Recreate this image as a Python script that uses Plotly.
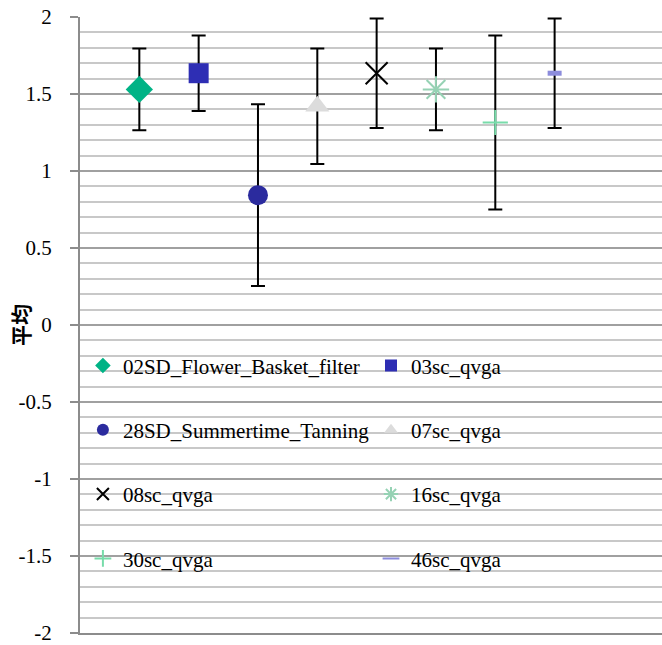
import plotly.graph_objects as go

names = ["02SD_Flower_Basket_filter", "03sc_qvga", "28SD_Summertime_Tanning", "07sc_qvga",
         "08sc_qvga", "16sc_qvga", "30sc_qvga", "46sc_qvga"]
x_pos = [1, 2, 3, 4, 5, 6, 7, 8]
means = [1.53, 1.635, 0.843, 1.42, 1.635, 1.53, 1.315, 1.635]
errors = [0.265, 0.245, 0.59, 0.375, 0.355, 0.265, 0.565, 0.355]

y_tickvals = [-2, -1.5, -1, -0.5, 0, 0.5, 1, 1.5, 2]
y_ticktext = ["-2", "-1.5", "-1", "-0.5", "0", "0.5", "1", "1.5", "2"]
y_title = "平均"

symbols = ["diamond", "square", "circle", "triangle-up", "x-thin", "asterisk", "cross-thin", "line-ew"]
colors = ["#00B386", "#2E2EB4", "#2B2B9E", "#DCDCDC", "#000000", "#96D2B4", "#78DCAA", "#8C8CDC"]
sizes = [21, 20, 20, 21, 22, 22, 18, 10]
line_w = [0, 0, 0, 0, 2, 2, 2, 5]
legend_col = ["legend", "legend2", "legend", "legend2", "legend", "legend2", "legend", "legend2"]

fig = go.Figure()
for i in range(len(names)):
    open_sym = symbols[i] in ("x-thin", "asterisk", "cross-thin", "line-ew")
    fig.add_trace(go.Scatter(
        x=[x_pos[i]], y=[means[i]], mode="markers", name=names[i],
        legend=legend_col[i], legendgroup=names[i],
        marker=dict(symbol=symbols[i], size=sizes[i], color=colors[i],
                    line=dict(width=line_w[i], color=colors[i]) if open_sym else dict(width=0)),
        error_y=dict(type="data", array=[errors[i]], color="black", thickness=2, width=7),
    ))

# white box behind the legend
fig.add_shape(type="rect", xref="paper", yref="paper", x0=0.0206, x1=1.0, y0=0.062, y1=0.468,
              fillcolor="white", line=dict(width=0), layer="between")

fig.add_annotation(text=y_title, xref="paper", yref="paper", x=-0.103, y=0.5,
                   textangle=-90, showarrow=False, xanchor="center", yanchor="middle",
                   font=dict(family="Noto Sans CJK JP", size=21, color="black", weight="bold"))

serif = "Liberation Serif, Times New Roman, serif"
leg_common = dict(font=dict(family=serif, size=21, color="black"),
                  bgcolor="rgba(0,0,0,0)", itemsizing="constant", tracegroupgap=34,
                  yanchor="top", xanchor="left", orientation="v")
fig.update_layout(
    width=662, height=645,
    margin=dict(l=80, r=0, t=17, b=12),
    plot_bgcolor="white", paper_bgcolor="white",
    showlegend=True,
    legend=dict(x=0.005, y=0.467, **leg_common),
    legend2=dict(x=0.5, y=0.467, **leg_common),
    xaxis=dict(range=[0, 9.81], showgrid=False, showticklabels=False, zeroline=False,
               showline=True, linecolor="#8C8C8C", linewidth=2, ticks="", automargin=False),
    yaxis=dict(range=[-2, 2], tickvals=y_tickvals, ticktext=y_ticktext,
               showgrid=True, gridcolor="#A0A0A0", gridwidth=2, automargin=False,
               zeroline=False, showline=True, linecolor="#8C8C8C", linewidth=2,
               ticks="outside", ticklen=8, tickcolor="#8C8C8C", tickwidth=2,
               ticklabelstandoff=14, ticklabeloverflow="allow",
               tickfont=dict(family=serif, size=21, color="black"),
               minor=dict(dtick=0.1, tick0=0, showgrid=True, gridcolor="#C8C8C8", gridwidth=2, ticks="")),
)
fig.write_html("out.html", config={"displayModeBar": False},
               post_script="document.body.style.margin='0';")
